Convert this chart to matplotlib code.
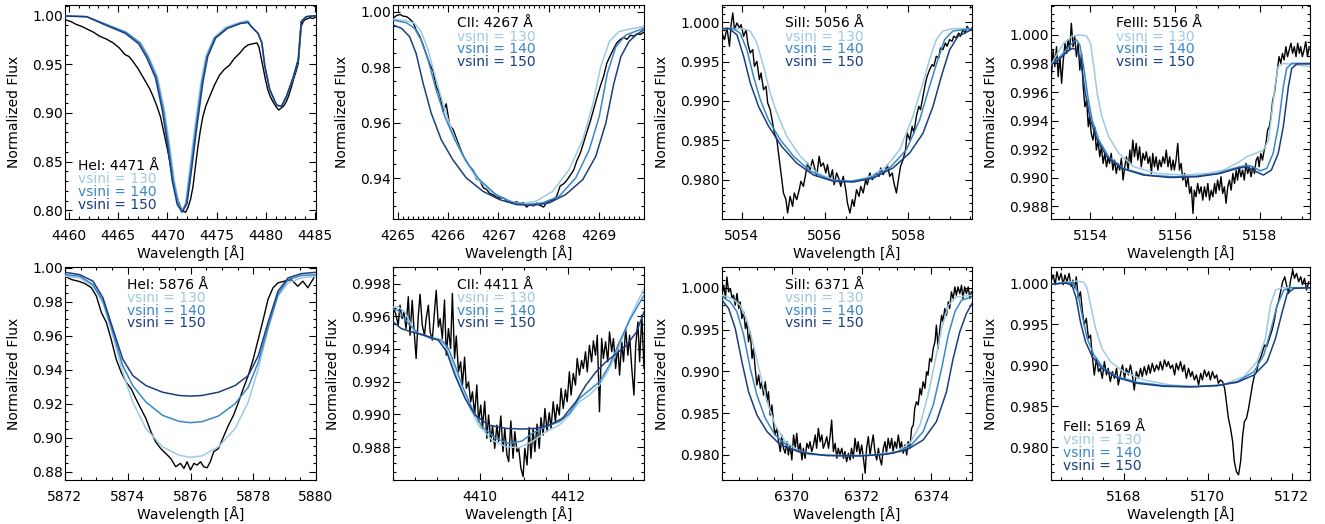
import matplotlib
matplotlib.use("Agg")
import matplotlib.pyplot as plt
from matplotlib.ticker import MultipleLocator, FormatStrFormatter

plt.rcParams['font.family'] = ['DejaVu Sans']

# ---------------- data ----------------
vsini_values = [130, 140, 150]
line_labels = ["HeI: 4471 Å", "CII: 4267 Å", "SiII: 5056 Å", "FeIII: 5156 Å",
               "HeI: 5876 Å", "CII: 4411 Å", "SiII: 6371 Å", "FeII: 5169 Å"]

# Panel 1: HeI 4471
obs_4471 = [(4459.6, 0.996), (4460.2, 0.994), (4460.75, 0.991), (4461.3, 0.989), (4461.9, 0.986), (4462.5, 0.983),
            (4463.1, 0.979), (4463.8, 0.976), (4464.5, 0.972), (4465.1, 0.967), (4465.7, 0.960), (4466.1, 0.958),
            (4466.5, 0.953), (4467.0, 0.946), (4467.4, 0.939), (4467.8, 0.932), (4468.2, 0.925), (4468.55, 0.917),
            (4468.9, 0.908), (4469.3, 0.896), (4469.6, 0.882), (4469.85, 0.870), (4470.1, 0.858), (4470.35, 0.845),
            (4470.6, 0.831), (4470.85, 0.820), (4471.1, 0.810), (4471.35, 0.803), (4471.6, 0.799), (4471.85, 0.798),
            (4472.1, 0.803), (4472.35, 0.811), (4472.6, 0.824), (4472.85, 0.845), (4473.1, 0.865), (4473.35, 0.882),
            (4473.6, 0.896), (4473.9, 0.907), (4474.3, 0.917), (4474.8, 0.929), (4475.3, 0.939), (4475.8, 0.945),
            (4476.3, 0.949), (4476.8, 0.956), (4477.4, 0.962), (4477.8, 0.967), (4478.2, 0.970), (4478.6, 0.971),
            (4479.1, 0.972), (4479.3, 0.968), (4479.5, 0.958), (4479.7, 0.948), (4479.95, 0.935), (4480.2, 0.924),
            (4480.45, 0.917), (4480.7, 0.912), (4481.0, 0.907), (4481.3, 0.903), (4481.55, 0.905), (4481.8, 0.907),
            (4482.05, 0.911), (4482.3, 0.917), (4482.55, 0.925), (4482.8, 0.934), (4483.05, 0.942), (4483.3, 0.951),
            (4483.45, 0.970), (4483.6, 0.989), (4483.8, 0.994), (4484.0, 0.996), (4484.25, 0.997), (4484.5, 0.998),
            (4484.8, 0.997), (4485.1, 0.999)]
m130_4471 = [(4459.6, 0.9997), (4461.8, 0.999), (4463.8, 0.991), (4465.8, 0.983), (4467.3, 0.972), (4468.1, 0.958),
             (4469.0, 0.937), (4469.7, 0.903), (4470.2, 0.869), (4470.7, 0.831), (4471.15, 0.807), (4471.5, 0.799),
             (4471.85, 0.807), (4472.3, 0.845), (4472.8, 0.886), (4473.4, 0.931), (4473.9, 0.958), (4474.7, 0.977),
             (4475.9, 0.988), (4477.3, 0.993), (4478.1, 0.995), (4478.45, 0.990), (4479.2, 0.982), (4479.6, 0.972),
             (4479.9, 0.948), (4480.4, 0.924), (4481.1, 0.908), (4481.6, 0.907), (4482.1, 0.917), (4482.8, 0.937),
             (4483.3, 0.955), (4483.6, 0.994), (4484.1, 0.999), (4485.1, 1.0)]
m140_4471 = [(4459.6, 0.9997), (4461.8, 0.999), (4463.8, 0.991), (4465.8, 0.983), (4467.2, 0.972), (4468.0, 0.958),
             (4468.9, 0.937), (4469.6, 0.903), (4470.1, 0.869), (4470.6, 0.831), (4471.1, 0.807), (4471.5, 0.799),
             (4471.9, 0.807), (4472.4, 0.845), (4472.9, 0.886), (4473.5, 0.931), (4474.0, 0.958), (4474.8, 0.977),
             (4476.0, 0.987), (4477.4, 0.992), (4478.2, 0.994), (4478.5, 0.989), (4479.2, 0.982), (4479.6, 0.972),
             (4479.9, 0.948), (4480.4, 0.924), (4481.1, 0.908), (4481.6, 0.907), (4482.1, 0.917), (4482.8, 0.937),
             (4483.3, 0.955), (4483.6, 0.994), (4484.1, 0.999), (4485.1, 1.0)]
m150_4471 = [(4459.6, 0.9997), (4461.8, 0.999), (4463.8, 0.990), (4465.7, 0.982), (4467.1, 0.971), (4467.9, 0.957),
             (4468.8, 0.936), (4469.5, 0.902), (4470.0, 0.868), (4470.5, 0.830), (4471.0, 0.806), (4471.5, 0.798),
             (4472.0, 0.807), (4472.5, 0.845), (4473.0, 0.886), (4473.6, 0.931), (4474.1, 0.958), (4474.9, 0.977),
             (4476.1, 0.987), (4477.4, 0.992), (4478.2, 0.993), (4478.5, 0.989), (4479.2, 0.982), (4479.6, 0.972),
             (4479.9, 0.948), (4480.4, 0.924), (4481.1, 0.908), (4481.6, 0.907), (4482.1, 0.917), (4482.8, 0.937),
             (4483.3, 0.955), (4483.6, 0.994), (4484.1, 0.999), (4485.1, 1.0)]

# Panel 2: CII 4267
obs_4267 = [(4264.9, 0.9976), (4264.97, 0.9986), (4265.04, 0.9990), (4265.1, 0.9984), (4265.17, 0.9982), (4265.23, 0.9974),
            (4265.3, 0.9962), (4265.36, 0.9934), (4265.43, 0.9912), (4265.5, 0.9880), (4265.56, 0.9848), (4265.63, 0.9812),
            (4265.7, 0.9785), (4265.76, 0.9732), (4265.83, 0.9702), (4265.9, 0.9640), (4265.96, 0.9668), (4266.03, 0.9590),
            (4266.1, 0.9575), (4266.16, 0.9545), (4266.23, 0.9512), (4266.3, 0.9480), (4266.36, 0.9462), (4266.43, 0.9440),
            (4266.5, 0.9428), (4266.56, 0.9398), (4266.63, 0.9392), (4266.7, 0.9365), (4266.76, 0.9360), (4266.83, 0.9345),
            (4266.9, 0.9340), (4266.96, 0.9332), (4267.03, 0.9328), (4267.1, 0.9330), (4267.16, 0.9318), (4267.23, 0.9315),
            (4267.3, 0.9310), (4267.36, 0.9316), (4267.43, 0.9308), (4267.5, 0.9312), (4267.56, 0.9296), (4267.63, 0.9306),
            (4267.7, 0.9300), (4267.76, 0.9310), (4267.83, 0.9302), (4267.9, 0.9296), (4267.96, 0.9312), (4268.03, 0.9320),
            (4268.1, 0.9322), (4268.16, 0.9335), (4268.23, 0.9372), (4268.3, 0.9380), (4268.36, 0.9392), (4268.43, 0.9410),
            (4268.5, 0.9430), (4268.56, 0.9462), (4268.63, 0.9490), (4268.7, 0.9530), (4268.76, 0.9565), (4268.83, 0.9605),
            (4268.9, 0.9650), (4268.96, 0.9690), (4269.03, 0.9732), (4269.1, 0.9770), (4269.16, 0.9815), (4269.23, 0.9842),
            (4269.3, 0.9868), (4269.36, 0.9888), (4269.43, 0.9900), (4269.5, 0.9908), (4269.56, 0.9900), (4269.63, 0.9915),
            (4269.7, 0.9912), (4269.76, 0.9920), (4269.83, 0.9918), (4269.89, 0.9925)]
m130_4267 = [(4264.9, 0.9972), (4265.17, 0.9968), (4265.33, 0.9958), (4265.46, 0.9928), (4265.6, 0.9862), (4265.76, 0.9754),
             (4265.93, 0.9647), (4266.09, 0.9563), (4266.29, 0.9479), (4266.56, 0.9401), (4266.89, 0.9347), (4267.22, 0.9317),
             (4267.48, 0.9309), (4267.75, 0.9317), (4268.08, 0.9353), (4268.41, 0.9431), (4268.68, 0.9539), (4268.87, 0.9659),
             (4269.04, 0.9802), (4269.21, 0.9892), (4269.4, 0.9928), (4269.6, 0.9937), (4269.89, 0.9946)]
m140_4267 = [(4264.9, 0.9970), (4265.17, 0.9960), (4265.33, 0.9940), (4265.46, 0.9898), (4265.6, 0.9826), (4265.76, 0.9718),
             (4265.93, 0.9623), (4266.13, 0.9539), (4266.36, 0.9461), (4266.62, 0.9395), (4266.95, 0.9341), (4267.28, 0.9313),
             (4267.55, 0.9305), (4267.88, 0.9311), (4268.21, 0.9335), (4268.54, 0.9401), (4268.81, 0.9503), (4269.01, 0.9623),
             (4269.17, 0.9778), (4269.34, 0.9874), (4269.54, 0.9916), (4269.89, 0.9940)]
m150_4267 = [(4264.9, 0.9952), (4265.07, 0.9940), (4265.23, 0.9910), (4265.36, 0.9850), (4265.5, 0.9742), (4265.66, 0.9635),
             (4265.86, 0.9539), (4266.09, 0.9467), (4266.36, 0.9401), (4266.69, 0.9353), (4267.02, 0.9323), (4267.36, 0.9305),
             (4267.68, 0.9302), (4268.01, 0.9311), (4268.34, 0.9341), (4268.68, 0.9395), (4268.94, 0.9479), (4269.14, 0.9599),
             (4269.3, 0.9742), (4269.44, 0.9838), (4269.6, 0.9892), (4269.74, 0.9916), (4269.89, 0.9934)]

# Panel 3: SiII 5056
obs_5056 = [(5053.52, 0.99864), (5053.58, 0.9978), (5053.64, 0.99928), (5053.70, 0.99695), (5053.74, 0.9997),
            (5053.78, 1.00119), (5053.82, 0.99907), (5053.88, 0.99992), (5053.94, 0.99928), (5053.98, 0.9997),
            (5054.04, 0.99822), (5054.10, 0.99907), (5054.14, 0.99737), (5054.20, 0.9961), (5054.26, 0.99653),
            (5054.30, 0.99441), (5054.36, 0.99504), (5054.42, 0.99271), (5054.46, 0.99356), (5054.52, 0.99144),
            (5054.58, 0.99186), (5054.62, 0.98975), (5054.68, 0.9889), (5054.74, 0.9872), (5054.78, 0.98593),
            (5054.84, 0.98508), (5054.90, 0.98254), (5054.94, 0.98085), (5055.00, 0.97831), (5055.06, 0.97746),
            (5055.10, 0.97576), (5055.16, 0.97788), (5055.22, 0.97661), (5055.26, 0.97831), (5055.32, 0.97746),
            (5055.38, 0.97873), (5055.42, 0.97979), (5055.48, 0.97915), (5055.54, 0.98085), (5055.58, 0.98212),
            (5055.64, 0.98127), (5055.70, 0.98254), (5055.74, 0.9817), (5055.80, 0.98042), (5055.86, 0.98297),
            (5055.90, 0.9817), (5055.96, 0.98212), (5056.02, 0.98085), (5056.06, 0.98191), (5056.12, 0.98),
            (5056.18, 0.98127), (5056.22, 0.97936), (5056.28, 0.98085), (5056.34, 0.98), (5056.38, 0.97915),
            (5056.44, 0.98042), (5056.50, 0.97873), (5056.54, 0.97703), (5056.60, 0.97576), (5056.66, 0.97746),
            (5056.70, 0.97661), (5056.76, 0.97873), (5056.82, 0.97788), (5056.86, 0.97915), (5056.92, 0.97831),
            (5056.98, 0.98), (5057.02, 0.97936), (5057.08, 0.98085), (5057.14, 0.98), (5057.18, 0.98042),
            (5057.24, 0.98085), (5057.30, 0.98042), (5057.34, 0.98148), (5057.40, 0.98064), (5057.46, 0.98127),
            (5057.50, 0.98191), (5057.56, 0.98042), (5057.62, 0.98085), (5057.66, 0.97958), (5057.72, 0.97831),
            (5057.78, 0.98042), (5057.82, 0.9817), (5057.88, 0.98254), (5057.94, 0.98381), (5057.98, 0.98593),
            (5058.04, 0.98508), (5058.10, 0.98678), (5058.14, 0.98593), (5058.20, 0.98805), (5058.26, 0.98932),
            (5058.30, 0.9889), (5058.36, 0.99059), (5058.42, 0.99229), (5058.46, 0.99314), (5058.52, 0.99398),
            (5058.58, 0.99462), (5058.62, 0.99441), (5058.68, 0.99568), (5058.74, 0.99547), (5058.78, 0.99674),
            (5058.84, 0.99653), (5058.90, 0.99737), (5058.94, 0.99695), (5059.00, 0.9978), (5059.06, 0.99759),
            (5059.10, 0.99822), (5059.16, 0.99801), (5059.22, 0.99864), (5059.26, 0.99822), (5059.32, 0.99907),
            (5059.38, 0.99864), (5059.42, 0.99949), (5059.48, 0.99907), (5059.54, 0.99928)]
m130_5056 = [(5053.52, 0.9992), (5054.0, 0.9992), (5054.2, 0.9989), (5054.36, 0.9974), (5054.52, 0.9944), (5054.68, 0.991),
             (5054.84, 0.9885), (5055.08, 0.9855), (5055.4, 0.983), (5055.8, 0.9809), (5056.28, 0.9798), (5056.68, 0.9798),
             (5057.08, 0.9804), (5057.48, 0.9817), (5057.8, 0.9838), (5058.12, 0.9881), (5058.36, 0.9923), (5058.52, 0.9953),
             (5058.68, 0.9978), (5058.84, 0.9989), (5059.08, 0.9992), (5059.54, 0.9992)]
m140_5056 = [(5053.52, 0.9992), (5053.8, 0.9992), (5053.96, 0.9986), (5054.12, 0.9965), (5054.28, 0.9931), (5054.44, 0.9902),
             (5054.64, 0.9876), (5054.92, 0.9851), (5055.24, 0.983), (5055.64, 0.9811), (5056.12, 0.98), (5056.6, 0.9798),
             (5057.08, 0.9802), (5057.56, 0.9815), (5057.96, 0.9838), (5058.28, 0.9876), (5058.52, 0.9919), (5058.72, 0.9953),
             (5058.88, 0.9978), (5059.08, 0.9989), (5059.54, 0.9992)]
m150_5056 = [(5053.52, 0.9992), (5053.7, 0.9992), (5053.88, 0.9984), (5054.04, 0.9957), (5054.2, 0.9923), (5054.4, 0.9893),
             (5054.64, 0.9868), (5054.96, 0.9842), (5055.32, 0.9821), (5055.72, 0.9806), (5056.2, 0.9798), (5056.68, 0.9797),
             (5057.16, 0.9802), (5057.64, 0.9815), (5058.04, 0.9834), (5058.36, 0.9859), (5058.6, 0.9893), (5058.8, 0.9931),
             (5059.0, 0.9965), (5059.2, 0.9982), (5059.54, 0.9991)]

# Panel 4: FeIII 5156
obs_5156 = [(5153.07, 0.99661), (5153.12, 0.99895), (5153.16, 0.99778), (5153.2, 0.99918), (5153.24, 0.99708),
            (5153.28, 0.99848), (5153.32, 0.99661), (5153.36, 0.99825), (5153.4, 0.99942), (5153.44, 0.99871),
            (5153.47, 0.99965), (5153.51, 0.99895), (5153.55, 1.00082), (5153.59, 0.99918), (5153.63, 0.99988),
            (5153.67, 0.99848), (5153.71, 0.99942), (5153.75, 0.99754), (5153.79, 0.99871), (5153.83, 0.99637),
            (5153.87, 0.99497), (5153.91, 0.99544), (5153.95, 0.99357), (5153.98, 0.99427), (5154.02, 0.9931),
            (5154.06, 0.99263), (5154.1, 0.99357), (5154.14, 0.99193), (5154.18, 0.99263), (5154.22, 0.99146),
            (5154.26, 0.99216), (5154.3, 0.991), (5154.34, 0.9917), (5154.38, 0.99076), (5154.42, 0.99146),
            (5154.45, 0.991), (5154.49, 0.9917), (5154.53, 0.99053), (5154.57, 0.99123), (5154.61, 0.99029),
            (5154.65, 0.991), (5154.69, 0.99053), (5154.73, 0.99135), (5154.77, 0.98983), (5154.81, 0.99076),
            (5154.85, 0.99146), (5154.89, 0.99053), (5154.93, 0.99193), (5154.96, 0.991), (5155.0, 0.99263),
            (5155.04, 0.99146), (5155.08, 0.9924), (5155.12, 0.99123), (5155.16, 0.99216), (5155.2, 0.99076),
            (5155.24, 0.9917), (5155.28, 0.99123), (5155.32, 0.99181), (5155.36, 0.991), (5155.4, 0.99146),
            (5155.44, 0.99029), (5155.47, 0.9917), (5155.51, 0.99076), (5155.55, 0.99146), (5155.59, 0.99053),
            (5155.63, 0.99123), (5155.67, 0.99076), (5155.71, 0.99146), (5155.75, 0.991), (5155.79, 0.99193),
            (5155.83, 0.99076), (5155.87, 0.99146), (5155.91, 0.99053), (5155.95, 0.99123), (5155.98, 0.99053),
            (5156.02, 0.99123), (5156.06, 0.9924), (5156.1, 0.99053), (5156.14, 0.991), (5156.18, 0.98983),
            (5156.22, 0.99029), (5156.26, 0.98936), (5156.3, 0.99006), (5156.34, 0.98889), (5156.38, 0.98936),
            (5156.42, 0.98749), (5156.45, 0.98912), (5156.49, 0.98866), (5156.53, 0.98959), (5156.57, 0.98889),
            (5156.61, 0.98936), (5156.65, 0.98842), (5156.69, 0.98936), (5156.73, 0.98866), (5156.77, 0.98959),
            (5156.81, 0.98842), (5156.85, 0.98912), (5156.89, 0.98866), (5156.93, 0.98959), (5156.96, 0.98889),
            (5157.0, 0.98983), (5157.04, 0.98912), (5157.08, 0.99006), (5157.12, 0.98889), (5157.16, 0.98936),
            (5157.2, 0.9882), (5157.24, 0.98936), (5157.28, 0.98983), (5157.32, 0.98912), (5157.36, 0.99029),
            (5157.4, 0.98959), (5157.44, 0.99053), (5157.47, 0.98983), (5157.51, 0.99076), (5157.55, 0.99006),
            (5157.59, 0.99053), (5157.63, 0.98983), (5157.67, 0.991), (5157.71, 0.99029), (5157.75, 0.99076),
            (5157.79, 0.99006), (5157.83, 0.99076), (5157.87, 0.99029), (5157.91, 0.99123), (5157.95, 0.99146),
            (5157.98, 0.99076), (5158.02, 0.9917), (5158.06, 0.99123), (5158.1, 0.99193), (5158.14, 0.9924),
            (5158.18, 0.99333), (5158.22, 0.99357), (5158.26, 0.99427), (5158.3, 0.99544), (5158.34, 0.99591),
            (5158.38, 0.99684), (5158.42, 0.99778), (5158.45, 0.99848), (5158.49, 0.99801), (5158.53, 0.99871),
            (5158.57, 0.99825), (5158.61, 0.99918), (5158.65, 0.99848), (5158.69, 0.99895), (5158.73, 0.99942),
            (5158.77, 0.99871), (5158.81, 0.99918), (5158.85, 0.99848), (5158.89, 0.99942), (5158.93, 0.99871),
            (5158.96, 0.99918), (5159.0, 0.99848), (5159.04, 0.99895), (5159.08, 0.99953), (5159.12, 0.99848),
            (5159.16, 0.99918)]
m130_5156 = [(5153.07, 0.9979), (5153.22, 0.99871), (5153.37, 0.99942), (5153.57, 0.99993), (5153.76, 1.0), (5153.91, 0.99993),
             (5154.0, 0.99942), (5154.08, 0.99778), (5154.16, 0.99591), (5154.27, 0.99427), (5154.43, 0.99287), (5154.67, 0.9917),
             (5155.02, 0.99076), (5155.57, 0.99029), (5156.2, 0.99018), (5156.75, 0.99029), (5157.14, 0.99053), (5157.45, 0.991),
             (5157.69, 0.99146), (5157.92, 0.99174), (5158.08, 0.99193), (5158.2, 0.99263), (5158.27, 0.99427), (5158.35, 0.99637),
             (5158.43, 0.99778), (5158.55, 0.99801), (5159.18, 0.99778)]
m140_5156 = [(5153.07, 0.9979), (5153.29, 0.99848), (5153.49, 0.99918), (5153.61, 0.99953), (5153.67, 0.99965), (5153.75, 0.9993),
             (5153.84, 0.99778), (5153.94, 0.99567), (5154.04, 0.99404), (5154.2, 0.99263), (5154.43, 0.99146), (5154.78, 0.99064),
             (5155.33, 0.99018), (5155.96, 0.99006), (5156.51, 0.99011), (5156.98, 0.99029), (5157.37, 0.99064), (5157.69, 0.99088),
             (5157.84, 0.99076), (5158.0, 0.99048), (5158.16, 0.99064), (5158.31, 0.9917), (5158.43, 0.99357), (5158.55, 0.99637),
             (5158.63, 0.99766), (5158.75, 0.99801), (5159.18, 0.99801)]
m150_5156 = [(5153.07, 0.9979), (5153.25, 0.99825), (5153.45, 0.99883), (5153.57, 0.99906), (5153.69, 0.99895), (5153.78, 0.99801),
             (5153.88, 0.99591), (5154.0, 0.99404), (5154.16, 0.99263), (5154.39, 0.99146), (5154.75, 0.99064), (5155.25, 0.99018),
             (5155.88, 0.99001), (5156.51, 0.99006), (5157.06, 0.99029), (5157.45, 0.99064), (5157.69, 0.99076), (5157.92, 0.99041),
             (5158.08, 0.99018), (5158.27, 0.99053), (5158.43, 0.9917), (5158.55, 0.99357), (5158.67, 0.99637), (5158.75, 0.99766),
             (5158.87, 0.99797), (5159.18, 0.99797)]

# Panel 5: HeI 5876
obs_5876 = [(5872.0, 0.9949), (5872.21, 0.9929), (5872.42, 0.9920), (5872.63, 0.9906), (5872.84, 0.9881), (5873.0, 0.9832),
            (5873.16, 0.9735), (5873.32, 0.9676), (5873.47, 0.9579), (5873.63, 0.9462), (5873.79, 0.9384), (5873.95, 0.9326),
            (5874.11, 0.9287), (5874.26, 0.9228), (5874.42, 0.9170), (5874.58, 0.9112), (5874.74, 0.9034), (5874.89, 0.8975),
            (5875.05, 0.8936), (5875.21, 0.8907), (5875.37, 0.8878), (5875.53, 0.8829), (5875.68, 0.8849), (5875.79, 0.8819),
            (5875.89, 0.8858), (5876.0, 0.8810), (5876.11, 0.8849), (5876.21, 0.8839), (5876.32, 0.8858), (5876.42, 0.8829),
            (5876.53, 0.8823), (5876.63, 0.8858), (5876.74, 0.8917), (5876.89, 0.8936), (5877.05, 0.9004), (5877.21, 0.9073),
            (5877.37, 0.9131), (5877.53, 0.9209), (5877.68, 0.9287), (5877.84, 0.9365), (5878.0, 0.9462), (5878.16, 0.9579),
            (5878.32, 0.9696), (5878.47, 0.9812), (5878.63, 0.9881), (5878.79, 0.9910), (5879.0, 0.9920), (5879.21, 0.9929),
            (5879.42, 0.9890), (5879.58, 0.9920), (5879.74, 0.9881), (5879.93, 0.9939)]
m130_5876 = [(5872.0, 0.9949), (5872.47, 0.9939), (5872.89, 0.9890), (5873.21, 0.9793), (5873.53, 0.9598), (5873.84, 0.9384),
             (5874.16, 0.9209), (5874.58, 0.9053), (5875.11, 0.8946), (5875.63, 0.8897), (5876.0, 0.8884), (5876.37, 0.8893),
             (5876.89, 0.8946), (5877.42, 0.9053), (5877.84, 0.9209), (5878.16, 0.9404), (5878.47, 0.9637), (5878.79, 0.9832),
             (5879.11, 0.9910), (5879.53, 0.9939), (5880.0, 0.9949)]
m140_5876 = [(5872.0, 0.9958), (5872.47, 0.9949), (5872.89, 0.9900), (5873.21, 0.9803), (5873.53, 0.9618), (5873.84, 0.9423),
             (5874.16, 0.9306), (5874.58, 0.9209), (5875.11, 0.9131), (5875.63, 0.9096), (5876.0, 0.9088), (5876.37, 0.9094),
             (5876.89, 0.9127), (5877.42, 0.9199), (5877.84, 0.9296), (5878.16, 0.9443), (5878.47, 0.9647), (5878.79, 0.9842),
             (5879.11, 0.9929), (5879.53, 0.9953), (5880.0, 0.9958)]
m150_5876 = [(5872.0, 0.9972), (5872.47, 0.9958), (5872.89, 0.9920), (5873.21, 0.9822), (5873.53, 0.9637), (5873.84, 0.9462),
             (5874.16, 0.9365), (5874.58, 0.9306), (5875.11, 0.9267), (5875.63, 0.9248), (5876.0, 0.9244), (5876.37, 0.9248),
             (5876.89, 0.9267), (5877.42, 0.9306), (5877.84, 0.9365), (5878.16, 0.9481), (5878.47, 0.9676), (5878.79, 0.9861),
             (5879.11, 0.9939), (5879.53, 0.9964), (5880.0, 0.9972)]

# Panel 6: CII 4411
obs_4411 = [(4407.98, 0.99566), (4408.02, 0.99647), (4408.07, 0.99607), (4408.12, 0.99546), (4408.16, 0.99668),
            (4408.21, 0.99586), (4408.25, 0.99627), (4408.3, 0.99525), (4408.35, 0.99720), (4408.39, 0.99484),
            (4408.44, 0.99698), (4408.48, 0.99525), (4408.53, 0.99342), (4408.58, 0.99607), (4408.62, 0.99735),
            (4408.67, 0.99546), (4408.72, 0.99484), (4408.76, 0.99586), (4408.81, 0.99668), (4408.85, 0.99505),
            (4408.9, 0.99454), (4408.95, 0.99627), (4408.99, 0.99759), (4409.04, 0.99535), (4409.08, 0.99586),
            (4409.13, 0.99464), (4409.18, 0.99700), (4409.22, 0.99362), (4409.27, 0.99525), (4409.32, 0.99403),
            (4409.36, 0.99740), (4409.41, 0.99342), (4409.45, 0.99480), (4409.5, 0.9926), (4409.55, 0.99322),
            (4409.59, 0.99179), (4409.64, 0.99350), (4409.68, 0.99159), (4409.73, 0.99199), (4409.78, 0.99077),
            (4409.82, 0.99138), (4409.87, 0.98996), (4409.92, 0.99180), (4409.96, 0.98955), (4410.01, 0.99057),
            (4410.05, 0.98914), (4410.1, 0.99080), (4410.15, 0.98853), (4410.19, 0.98996), (4410.24, 0.98833),
            (4410.28, 0.98930), (4410.33, 0.98792), (4410.38, 0.98934), (4410.42, 0.98833), (4410.47, 0.98990),
            (4410.52, 0.98771), (4410.56, 0.98914), (4410.61, 0.98751), (4410.65, 0.9871), (4410.7, 0.98960),
            (4410.75, 0.98731), (4410.79, 0.98894), (4410.84, 0.98771), (4410.88, 0.98792), (4410.93, 0.9867),
            (4410.98, 0.98619), (4411.02, 0.98792), (4411.07, 0.9869), (4411.12, 0.98920), (4411.16, 0.98731),
            (4411.21, 0.98914), (4411.25, 0.98771), (4411.3, 0.98940), (4411.35, 0.98792), (4411.39, 0.98980),
            (4411.44, 0.98873), (4411.48, 0.99036), (4411.53, 0.98894), (4411.58, 0.99010), (4411.62, 0.98914),
            (4411.67, 0.99077), (4411.72, 0.98955), (4411.76, 0.99060), (4411.81, 0.98996), (4411.85, 0.99159),
            (4411.9, 0.99036), (4411.95, 0.99150), (4411.99, 0.99077), (4412.04, 0.9926), (4412.08, 0.99118),
            (4412.13, 0.99250), (4412.18, 0.99179), (4412.22, 0.99342), (4412.27, 0.9924), (4412.32, 0.99330),
            (4412.36, 0.99281), (4412.41, 0.99383), (4412.45, 0.9926), (4412.5, 0.99423), (4412.55, 0.99322),
            (4412.59, 0.99450), (4412.64, 0.99362), (4412.68, 0.99484), (4412.73, 0.99016), (4412.78, 0.99464),
            (4412.82, 0.99342), (4412.87, 0.99444), (4412.92, 0.99322), (4412.96, 0.99505), (4413.01, 0.99383),
            (4413.05, 0.99464), (4413.1, 0.99281), (4413.15, 0.99423), (4413.19, 0.9924), (4413.24, 0.99444),
            (4413.28, 0.99322), (4413.33, 0.99525), (4413.38, 0.99362), (4413.42, 0.99484), (4413.47, 0.99281),
            (4413.52, 0.99118), (4413.56, 0.99423), (4413.61, 0.99566), (4413.65, 0.99322), (4413.7, 0.99607),
            (4413.75, 0.99281)]
m130_4411 = [(4407.96, 0.99658), (4408.12, 0.99658), (4408.27, 0.99627), (4408.5, 0.99505), (4408.81, 0.99474), (4409.04, 0.99464),
             (4409.19, 0.99423), (4409.35, 0.99322), (4409.5, 0.99199), (4409.73, 0.99057), (4409.96, 0.98934), (4410.27, 0.98843),
             (4410.58, 0.98802), (4410.88, 0.98796), (4411.19, 0.98833), (4411.5, 0.98894), (4411.81, 0.98934), (4412.04, 0.98996),
             (4412.27, 0.99077), (4412.5, 0.99118), (4412.73, 0.99179), (4412.96, 0.99281), (4413.19, 0.99423), (4413.42, 0.99586),
             (4413.75, 0.9977)]
m140_4411 = [(4407.96, 0.99647), (4408.12, 0.99637), (4408.35, 0.99556), (4408.58, 0.99495), (4408.88, 0.99464), (4409.12, 0.99454),
             (4409.27, 0.99403), (4409.42, 0.99301), (4409.58, 0.99179), (4409.81, 0.99036), (4410.04, 0.98924), (4410.35, 0.98853),
             (4410.65, 0.98822), (4410.96, 0.98837), (4411.19, 0.98884), (4411.5, 0.98924), (4411.81, 0.98955), (4412.04, 0.99006),
             (4412.27, 0.99098), (4412.5, 0.99148), (4412.73, 0.99199), (4412.96, 0.99301), (4413.19, 0.99444), (4413.42, 0.99576),
             (4413.75, 0.99729)]
m150_4411 = [(4407.96, 0.99576), (4408.19, 0.99525), (4408.42, 0.99505), (4408.73, 0.99484), (4409.04, 0.99454), (4409.23, 0.99383),
             (4409.42, 0.9924), (4409.65, 0.99098), (4409.88, 0.98996), (4410.19, 0.98934), (4410.58, 0.98914), (4410.96, 0.9891),
             (4411.27, 0.98914), (4411.58, 0.98934), (4411.88, 0.98975), (4412.19, 0.99077), (4412.42, 0.99179), (4412.65, 0.9926),
             (4412.88, 0.99322), (4413.12, 0.99372), (4413.35, 0.99423), (4413.58, 0.99505), (4413.75, 0.99627)]

# Panel 7: SiII 6371
obs_6371 = [(6368.0, 0.99912), (6368.05, 1.00032), (6368.1, 0.99873), (6368.14, 1.00131), (6368.19, 0.99952),
            (6368.24, 0.99992), (6368.29, 0.99873), (6368.33, 0.99912), (6368.38, 0.99793), (6368.43, 0.99932),
            (6368.48, 0.99753), (6368.52, 0.99833), (6368.57, 0.99633), (6368.62, 0.99713), (6368.67, 0.99514),
            (6368.71, 0.99594), (6368.76, 0.99355), (6368.81, 0.99474), (6368.86, 0.99155), (6368.9, 0.99275),
            (6368.95, 0.99036), (6369.0, 0.98837), (6369.05, 0.98956), (6369.1, 0.98797), (6369.14, 0.98876),
            (6369.19, 0.98717), (6369.24, 0.98876), (6369.29, 0.98637), (6369.33, 0.98757), (6369.38, 0.98478),
            (6369.43, 0.98598), (6369.48, 0.98359), (6369.52, 0.98239), (6369.57, 0.98319), (6369.62, 0.98159),
            (6369.67, 0.9804), (6369.71, 0.98239), (6369.76, 0.9808), (6369.81, 0.9802), (6369.86, 0.98159),
            (6369.9, 0.98), (6369.95, 0.9812), (6370.0, 0.9794), (6370.05, 0.98239), (6370.1, 0.9808),
            (6370.14, 0.98259), (6370.19, 0.9804), (6370.24, 0.98139), (6370.29, 0.9794), (6370.33, 0.9808),
            (6370.38, 0.9796), (6370.43, 0.98139), (6370.48, 0.9808), (6370.52, 0.98159), (6370.57, 0.9804),
            (6370.62, 0.9812), (6370.67, 0.98239), (6370.71, 0.9808), (6370.76, 0.98319), (6370.81, 0.98159),
            (6370.86, 0.98239), (6370.9, 0.9808), (6370.95, 0.98139), (6371.0, 0.98219), (6371.05, 0.9808),
            (6371.1, 0.98239), (6371.14, 0.98418), (6371.19, 0.9804), (6371.24, 0.98139), (6371.29, 0.9796),
            (6371.33, 0.9808), (6371.38, 0.98), (6371.43, 0.9808), (6371.48, 0.9796), (6371.52, 0.9804),
            (6371.57, 0.9792), (6371.62, 0.9802), (6371.67, 0.9794), (6371.71, 0.9808), (6371.76, 0.9796),
            (6371.81, 0.98199), (6371.86, 0.9804), (6371.9, 0.98159), (6371.95, 0.98), (6372.0, 0.9812),
            (6372.05, 0.9796), (6372.1, 0.97781), (6372.14, 0.9808), (6372.19, 0.98219), (6372.24, 0.98),
            (6372.29, 0.98139), (6372.33, 0.98239), (6372.38, 0.9804), (6372.43, 0.9794), (6372.48, 0.9808),
            (6372.52, 0.9796), (6372.57, 0.9788), (6372.62, 0.9808), (6372.67, 0.98159), (6372.71, 0.9802),
            (6372.76, 0.98199), (6372.81, 0.9808), (6372.86, 0.98199), (6372.9, 0.9804), (6372.95, 0.98159),
            (6373.0, 0.9808), (6373.05, 0.98239), (6373.1, 0.9808), (6373.14, 0.98159), (6373.19, 0.9802),
            (6373.24, 0.9812), (6373.29, 0.98), (6373.33, 0.98159), (6373.38, 0.9808), (6373.43, 0.98319),
            (6373.48, 0.98359), (6373.52, 0.98558), (6373.57, 0.98637), (6373.62, 0.98598), (6373.67, 0.98797),
            (6373.71, 0.98717), (6373.76, 0.98876), (6373.81, 0.98797), (6373.86, 0.98996), (6373.9, 0.98956),
            (6373.95, 0.99155), (6374.0, 0.99116), (6374.05, 0.99275), (6374.1, 0.99355), (6374.14, 0.99554),
            (6374.19, 0.99275), (6374.24, 0.99514), (6374.29, 0.99673), (6374.33, 0.99594), (6374.38, 0.99753),
            (6374.43, 0.99673), (6374.48, 0.99833), (6374.52, 0.99753), (6374.57, 0.99952), (6374.62, 0.99873),
            (6374.67, 1.00012), (6374.71, 0.99912), (6374.76, 1.00012), (6374.81, 0.99932), (6374.86, 1.00032),
            (6374.9, 0.99873), (6374.95, 1.00012), (6375.0, 0.99932), (6375.05, 1.00012), (6375.1, 0.99873),
            (6375.14, 0.99952)]
m130_6371 = [(6368.0, 0.99912), (6368.29, 0.99873), (6368.52, 0.99793), (6368.71, 0.99614), (6368.9, 0.99315), (6369.1, 0.98956),
             (6369.29, 0.98637), (6369.52, 0.98359), (6369.81, 0.98159), (6370.24, 0.9804), (6370.81, 0.98), (6371.57, 0.97992),
             (6372.33, 0.98), (6373.0, 0.9804), (6373.38, 0.98139), (6373.67, 0.98359), (6373.9, 0.98717), (6374.1, 0.99116),
             (6374.29, 0.99514), (6374.48, 0.99793), (6374.71, 0.99892), (6375.16, 0.99912)]
m140_6371 = [(6368.0, 0.99892), (6368.24, 0.99833), (6368.43, 0.99713), (6368.62, 0.99434), (6368.81, 0.99036), (6369.0, 0.98717),
             (6369.24, 0.98438), (6369.52, 0.98239), (6369.95, 0.9808), (6370.52, 0.98008), (6371.29, 0.97992), (6372.14, 0.97992),
             (6372.9, 0.9802), (6373.38, 0.981), (6373.76, 0.98279), (6374.05, 0.98598), (6374.29, 0.99036), (6374.48, 0.99434),
             (6374.67, 0.99713), (6374.86, 0.99853), (6375.16, 0.99892)]
m150_6371 = [(6368.0, 0.99853), (6368.19, 0.99753), (6368.38, 0.99514), (6368.57, 0.99116), (6368.76, 0.98757), (6369.0, 0.98478),
             (6369.29, 0.98279), (6369.67, 0.9812), (6370.24, 0.98032), (6371.0, 0.97992), (6371.95, 0.97988), (6372.71, 0.98008),
             (6373.29, 0.9806), (6373.76, 0.98179), (6374.14, 0.98398), (6374.43, 0.98757), (6374.62, 0.99155), (6374.81, 0.99474),
             (6375.0, 0.99693), (6375.16, 0.99813)]

# Panel 8: FeII 5169
obs_5169 = [(5166.27, 1.0002), (5166.32, 1.00102), (5166.37, 0.99984), (5166.41, 1.00142), (5166.46, 1.0004),
            (5166.51, 1.00122), (5166.56, 0.99984), (5166.6, 1.00102), (5166.65, 1.0002), (5166.7, 1.00122),
            (5166.75, 0.99963), (5166.79, 1.0004), (5166.84, 0.99943), (5166.87, 1.00081), (5166.92, 0.99817),
            (5166.97, 0.99898), (5167.02, 0.9965), (5167.06, 0.99492), (5167.11, 0.99573), (5167.16, 0.99329),
            (5167.21, 0.99369), (5167.25, 0.99126), (5167.3, 0.98882), (5167.35, 0.99085), (5167.4, 0.98923),
            (5167.44, 0.98963), (5167.49, 0.98841), (5167.54, 0.99045), (5167.59, 0.98882), (5167.63, 0.98963),
            (5167.68, 0.98801), (5167.73, 0.98923), (5167.78, 0.98841), (5167.83, 0.98963), (5167.87, 0.9876),
            (5167.92, 0.98882), (5167.97, 0.99004), (5168.02, 0.98841), (5168.06, 0.98963), (5168.11, 0.98882),
            (5168.16, 0.99004), (5168.21, 0.98862), (5168.25, 0.98699), (5168.3, 0.98923), (5168.35, 0.98841),
            (5168.4, 0.98963), (5168.44, 0.98862), (5168.49, 0.98984), (5168.54, 0.98882), (5168.59, 0.99004),
            (5168.63, 0.98902), (5168.68, 0.99024), (5168.73, 0.98923), (5168.78, 0.99004), (5168.83, 0.98943),
            (5168.87, 0.99045), (5168.92, 0.98943), (5168.97, 0.99065), (5169.02, 0.98984), (5169.06, 0.99045),
            (5169.11, 0.98963), (5169.16, 0.99004), (5169.21, 0.98882), (5169.25, 0.99024), (5169.3, 0.98943),
            (5169.35, 0.99045), (5169.4, 0.98923), (5169.44, 0.99004), (5169.49, 0.98841), (5169.54, 0.98963),
            (5169.59, 0.98862), (5169.63, 0.98923), (5169.68, 0.98821), (5169.73, 0.98882), (5169.78, 0.9876),
            (5169.83, 0.98902), (5169.87, 0.98821), (5169.92, 0.98943), (5169.97, 0.98862), (5170.02, 0.98923),
            (5170.06, 0.98821), (5170.11, 0.98923), (5170.16, 0.98841), (5170.21, 0.98882), (5170.25, 0.9878),
            (5170.3, 0.98821), (5170.35, 0.98801), (5170.4, 0.9872), (5170.44, 0.98557), (5170.49, 0.98354),
            (5170.54, 0.98232), (5170.59, 0.98069), (5170.63, 0.97825), (5170.68, 0.97703), (5170.73, 0.97663),
            (5170.78, 0.97825), (5170.83, 0.9815), (5170.87, 0.98313), (5170.92, 0.98354), (5170.97, 0.98476),
            (5171.02, 0.98638), (5171.06, 0.9876), (5171.11, 0.98882), (5171.16, 0.98923), (5171.21, 0.99045),
            (5171.25, 0.99085), (5171.3, 0.99167), (5171.35, 0.99248), (5171.4, 0.99228), (5171.44, 0.99289),
            (5171.49, 0.9937), (5171.54, 0.99451), (5171.59, 0.99573), (5171.63, 0.99695), (5171.68, 0.99776),
            (5171.73, 0.99898), (5171.78, 1.0002), (5171.83, 1.00081), (5171.87, 0.99984), (5171.92, 0.99878),
            (5171.97, 1.0004), (5172.02, 1.00162), (5172.06, 1.00061), (5172.11, 1.00122), (5172.16, 1.0002),
            (5172.21, 1.00081), (5172.25, 0.99984), (5172.3, 1.00061), (5172.35, 0.99919), (5172.4, 1.0002)]
m130_5169 = [(5166.27, 0.99988), (5166.57, 1.00012), (5166.89, 1.00028), (5167.05, 1.00012), (5167.13, 0.99939), (5167.21, 0.99736),
             (5167.33, 0.99451), (5167.48, 0.99207), (5167.68, 0.99045), (5168.0, 0.98923), (5168.48, 0.98821), (5169.11, 0.9876),
             (5169.75, 0.9874), (5170.38, 0.98768), (5170.86, 0.98862), (5171.17, 0.99045), (5171.37, 0.99329), (5171.49, 0.99736),
             (5171.61, 0.99919), (5171.77, 0.99947), (5172.43, 0.99947)]
m140_5169 = [(5166.27, 0.99988), (5166.65, 1.00012), (5166.81, 1.0), (5166.9, 0.99898), (5167.01, 0.99614), (5167.13, 0.99329),
             (5167.29, 0.99126), (5167.52, 0.98963), (5167.84, 0.98862), (5168.32, 0.98793), (5168.95, 0.98752), (5169.59, 0.9874),
             (5170.22, 0.98752), (5170.7, 0.98801), (5171.1, 0.98923), (5171.33, 0.99126), (5171.49, 0.99411), (5171.65, 0.99736),
             (5171.81, 0.99919), (5171.97, 0.99947), (5172.43, 0.99947)]
m150_5169 = [(5166.27, 0.99988), (5166.61, 1.00004), (5166.77, 0.9998), (5166.87, 0.99817), (5166.97, 0.99532), (5167.09, 0.99289),
             (5167.25, 0.99106), (5167.48, 0.98963), (5167.84, 0.9885), (5168.32, 0.9878), (5168.95, 0.98744), (5169.59, 0.98736),
             (5170.22, 0.98752), (5170.7, 0.98793), (5171.1, 0.98882), (5171.41, 0.99045), (5171.61, 0.99329), (5171.77, 0.99654),
             (5171.89, 0.99878), (5172.05, 0.99939), (5172.43, 0.99947)]

# x tick labels / y tick labels per panel
xticks_list = [[4460, 4465, 4470, 4475, 4480, 4485], [4265, 4266, 4267, 4268, 4269], [5054, 5056, 5058], [5154, 5156, 5158],
               [5872, 5874, 5876, 5878, 5880], [4410, 4412], [6370, 6372, 6374], [5168, 5170, 5172]]
yticks_list = [[0.80, 0.85, 0.90, 0.95, 1.00], [0.94, 0.96, 0.98, 1.00], [0.980, 0.985, 0.990, 0.995, 1.000],
               [0.988, 0.990, 0.992, 0.994, 0.996, 0.998, 1.000], [0.88, 0.90, 0.92, 0.94, 0.96, 0.98, 1.00],
               [0.988, 0.990, 0.992, 0.994, 0.996, 0.998], [0.980, 0.985, 0.990, 0.995, 1.000],
               [0.980, 0.985, 0.990, 0.995, 1.000]]

# ---------------- style / layout ----------------
colors = {130: '#9ecae1', 140: '#3a87c8', 150: '#1b3e7e'}
W, H = 1325, 524
fig = plt.figure(figsize=(W / 100, H / 100), dpi=100)

panels = [
    dict(box=(65, 5, 316, 219), obs=obs_4471, models=[m130_4471, m140_4471, m150_4471],
         xlim=(4459.6, 4485.1), ylim=(0.791, 1.011), xminor=1.0, yminor=0.01, yfmt='%.2f', leg=(0.052, 'low')),
    dict(box=(393, 5, 644, 219), obs=obs_4267, models=[m130_4267, m140_4267, m150_4267],
         xlim=(4264.9, 4269.9), ylim=(0.9253, 1.0024), xminor=0.1, yminor=0.005, yfmt='%.2f', leg=(0.254, 'high')),
    dict(box=(722, 5, 972, 219), obs=obs_5056, models=[m130_5056, m140_5056, m150_5056],
         xlim=(5053.52, 5059.54), ylim=(0.975, 1.0022), xminor=0.5, yminor=0.001, yfmt='%.3f', leg=(0.252, 'high')),
    dict(box=(1051, 5, 1310, 219), obs=obs_5156, models=[m130_5156, m140_5156, m150_5156],
         xlim=(5153.07, 5159.18), ylim=(0.9871, 1.0021), xminor=0.5, yminor=0.0005, yfmt='%.3f', leg=(0.251, 'high')),
    dict(box=(65, 267, 316, 480), obs=obs_5876, models=[m130_5876, m140_5876, m150_5876],
         xlim=(5872.0, 5880.0), ylim=(0.8751, 1.0003), xminor=0.5, yminor=0.005, yfmt='%.2f', leg=(0.246, 'high')),
    dict(box=(393, 267, 644, 480), obs=obs_4411, models=[m130_4411, m140_4411, m150_4411],
         xlim=(4408.0, 4413.75), ylim=(0.98598, 0.99902), xminor=0.5, yminor=0.0005, yfmt='%.3f', leg=(0.254, 'high')),
    dict(box=(722, 267, 972, 480), obs=obs_6371, models=[m130_6371, m140_6371, m150_6371],
         xlim=(6368.0, 6375.16), ylim=(0.9770, 1.0025), xminor=0.5, yminor=0.001, yfmt='%.3f', leg=(0.252, 'high')),
    dict(box=(1051, 267, 1310, 480), obs=obs_5169, models=[m130_5169, m140_5169, m150_5169],
         xlim=(5166.27, 5172.43), ylim=(0.9760, 1.0020), xminor=0.5, yminor=0.001, yfmt='%.3f', leg=(0.045, 'low')),
]

leg_y = {'high': [0.898, 0.834, 0.776, 0.716], 'low': [0.231, 0.167, 0.109, 0.049]}

for i, p in enumerate(panels):
    l, t, r, b = p['box']
    ax = fig.add_axes([l / W, 1 - b / H, (r - l) / W, (b - t) / H])
    ox, oy = zip(*p['obs'])
    ax.plot(ox, oy, color='black', lw=1.0, zorder=2)
    for v, m in zip(vsini_values, p['models']):
        mx, my = zip(*m)
        ax.plot(mx, my, color=colors[v], lw=1.1, zorder=3)
    ax.set_xlim(*p['xlim'])
    ax.set_ylim(*p['ylim'])
    ax.set_xticks(xticks_list[i])
    ax.set_yticks(yticks_list[i])
    ax.xaxis.set_minor_locator(MultipleLocator(p['xminor']))
    ax.yaxis.set_minor_locator(MultipleLocator(p['yminor']))
    ax.yaxis.set_major_formatter(FormatStrFormatter(p['yfmt']))
    ax.tick_params(which='both', direction='in', top=True, right=True, width=0.8, labelsize=10)
    ax.tick_params(which='major', length=5)
    ax.tick_params(which='minor', length=2.5)
    ax.tick_params(axis='x', pad=7.5)
    ax.tick_params(axis='y', pad=1.5)
    for s in ax.spines.values():
        s.set_linewidth(0.8)
    ax.set_xlabel('Wavelength [Å]', fontsize=10, labelpad=1)
    ax.set_ylabel('Normalized Flux', fontsize=10, labelpad=8)
    lx, mode = p['leg']
    ys = leg_y[mode]
    ax.text(lx, ys[0], line_labels[i], transform=ax.transAxes, fontsize=10, color='black', va='baseline', ha='left')
    for k, v in enumerate(vsini_values):
        ax.text(lx, ys[k + 1], 'vsini = %d' % v, transform=ax.transAxes, fontsize=10,
                color=colors[v], va='baseline', ha='left')

fig.savefig('out.png', dpi=100)
